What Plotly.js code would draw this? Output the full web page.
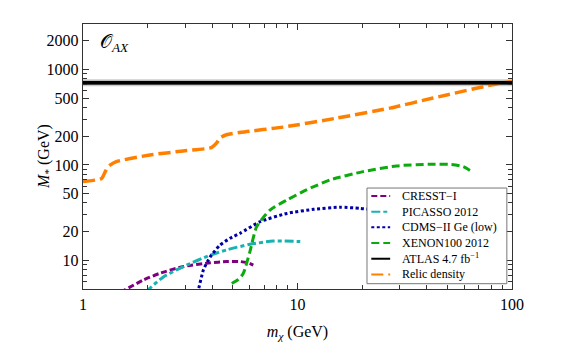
<!DOCTYPE html>
<html>
<head>
<meta charset="utf-8">
<script src="https://cdn.plot.ly/plotly-3.0.1.min.js"></script>
<style>
  body { margin: 0; background: #fff; }
  #chart { width: 569px; height: 355px; }
</style>
</head>
<body>
<div id="chart"></div>
<script>
// values (m_chi in GeV, M_* in GeV)
const cresstM = [1.5, 1.57, 1.91, 2.28, 2.94, 3.91, 4.68, 5.4, 5.9, 6.22];
const cresstY = [4.6, 4.9, 6.2, 7.3, 8.6, 9.4, 9.7, 9.7, 9.4, 8.9];

const picassoM = [1.95, 2.01, 2.37, 2.94, 3.91, 4.76, 6.0, 7.7, 10.3];
const picassoY = [4.6, 4.9, 6.7, 8.6, 11.3, 13.0, 14.7, 15.9, 15.7];

const cdmsM = [3.4, 3.45, 3.64, 3.91, 4.35, 4.85, 5.4, 6.7, 8.93, 11.9, 15.8, 19.6, 25];
const cdmsY = [4.5, 4.9, 7.9, 10.8, 14.4, 17.0, 19.2, 25.4, 31, 34.2, 36, 35, 33];

const xenonM = [4.94, 5.3, 5.59, 6.0, 6.45, 7.44, 8.93, 11.0, 14.2, 20.2, 29, 41.4, 52, 59.3, 66];
const xenonY = [5.7, 6.3, 7.3, 12.3, 22.5, 33.6, 42.9, 54.6, 69.6, 85, 97.6, 101.7, 101, 96, 83];

const atlasM = [1, 100];
const atlasY = [725, 725];
const atlasLo = [668, 668];
const atlasHi = [790, 790];
const atlasLo2 = [690, 690];
const atlasHi2 = [762, 762];

const relicM = [1, 1.22, 1.27, 1.31, 1.43, 2.05, 2.93, 3.97, 4.2, 4.34, 4.66, 5.47, 8.57, 15.2, 27, 42.8, 88, 100];
const relicY = [67, 72, 85, 96, 108, 127, 140, 152, 170, 191, 207, 220, 249, 309, 394, 502, 720, 750];

const names = ['CRESST\u2212I', 'PICASSO 2012', 'CDMS\u2212II Ge (low)', 'XENON100 2012',
               'ATLAS 4.7 fb<sup>\u22121</sup>', 'Relic density'];
const colors = ['#7f007f', '#19b2b2', '#0000a8', '#0caa0c', '#000000', '#ff8000'];
const dashes = ['6px,3px', '9px,3px,4px,3px', '3px,2.5px', '8px,4px', 'solid', '12px,5px'];

const serif = '"Liberation Serif", "Times New Roman", serif';

function curve(x, y, i, w) {
  return { x: x, y: y, type: 'scatter', mode: 'lines', name: names[i], showlegend: false,
           line: { color: colors[i], width: w, dash: dashes[i], shape: 'spline', smoothing: 0.6 } };
}

function band(lo, hi, fill) {
  return [
    { x: atlasM, y: hi, type: 'scatter', mode: 'lines', line: { width: 0 }, showlegend: false, hoverinfo: 'skip' },
    { x: atlasM, y: lo, type: 'scatter', mode: 'lines', line: { width: 0 }, fill: 'tonexty',
      fillcolor: fill, showlegend: false, hoverinfo: 'skip' }
  ];
}

const data = [
  ...band(atlasLo, atlasHi, 'rgba(0,0,0,0.2)'),
  ...band(atlasLo2, atlasHi2, 'rgba(0,0,0,0.3)'),
  curve(relicM, relicY, 5, 3.5),
  curve(cresstM, cresstY, 0, 3),
  curve(picassoM, picassoY, 1, 3),
  curve(cdmsM, cdmsY, 2, 3),
  curve(xenonM, xenonY, 3, 3),
  { x: atlasM, y: atlasY, type: 'scatter', mode: 'lines', name: names[4], showlegend: false,
    line: { color: '#000', width: 3.5 } }
];

// hand-made legend (rows are tighter than plotly's own legend allows)
const shapes = [{ type: 'rect', xref: 'paper', yref: 'paper', x0: 0.662, x1: 0.988, y0: 0.02, y1: 0.381,
                  fillcolor: '#fff', line: { color: '#777', width: 1 } }];
const annotations = [
  { xref: 'paper', yref: 'paper', x: 0.035, y: 0.93, xanchor: 'left', yanchor: 'middle',
    showarrow: false, text: '\uD835\uDCAA<sub><i>AX</i></sub>',
    font: { family: serif, size: 19, color: '#000' } },
  { xref: 'paper', yref: 'paper', x: -0.09, y: 0.5, xanchor: 'center', yanchor: 'middle',
    showarrow: false, textangle: -90, text: '<i>M</i><sub>*</sub> (GeV)',
    font: { family: serif, size: 16, color: '#000' } }
];
for (let i = 0; i < names.length; i++) {
  const yy = 0.351 - i * 0.0592;
  shapes.push({ type: 'line', xref: 'paper', yref: 'paper', x0: 0.672, x1: 0.716, y0: yy, y1: yy,
                line: { color: colors[i], width: 2, dash: dashes[i] } });
  annotations.push({ xref: 'paper', yref: 'paper', x: 0.74, y: yy, xanchor: 'left', yanchor: 'middle',
                     showarrow: false, text: names[i], font: { family: serif, size: 12, color: '#000' } });
}

const layout = {
  width: 569, height: 355,
  margin: { l: 83, r: 57, t: 24, b: 66 },
  paper_bgcolor: '#fff', plot_bgcolor: '#fff',
  showlegend: false,
  font: { family: serif, size: 16, color: '#000' },
  xaxis: {
    type: 'log', range: [0, 2],
    tickmode: 'array', tickvals: [1, 10, 100], ticktext: ['1', '10', '100'],
    ticks: 'inside', ticklen: 6, tickcolor: '#333', mirror: 'allticks',
    showline: true, linecolor: '#333', linewidth: 1.3, showgrid: false, zeroline: false,
    minor: { tickmode: 'array', tickvals: [2, 3, 4, 5, 6, 7, 8, 9, 20, 30, 40, 50, 60, 70, 80, 90],
             ticks: 'inside', ticklen: 4, tickcolor: '#333', showgrid: false },
    title: { text: '<i>m</i><sub><i>\u03C7</i></sub> (GeV)', font: { family: serif, size: 16 }, standoff: 14 }
  },
  yaxis: {
    type: 'log', range: [Math.log10(5), Math.log10(3000)],
    tickmode: 'array', tickvals: [10, 20, 50, 100, 200, 500, 1000, 2000],
    ticks: 'inside', ticklen: 6, tickcolor: '#333', mirror: 'allticks',
    showline: true, linecolor: '#333', linewidth: 1.3, showgrid: false, zeroline: false,
    minor: { tickmode: 'array', tickvals: [6, 7, 8, 9, 30, 40, 60, 70, 80, 90, 300, 400, 600, 700, 800, 900, 3000],
             ticks: 'inside', ticklen: 4, tickcolor: '#333', showgrid: false }
  },
  shapes: shapes,
  annotations: annotations
};

Plotly.newPlot('chart', data, layout, { displayModeBar: false, staticPlot: true });
</script>
</body>
</html>
